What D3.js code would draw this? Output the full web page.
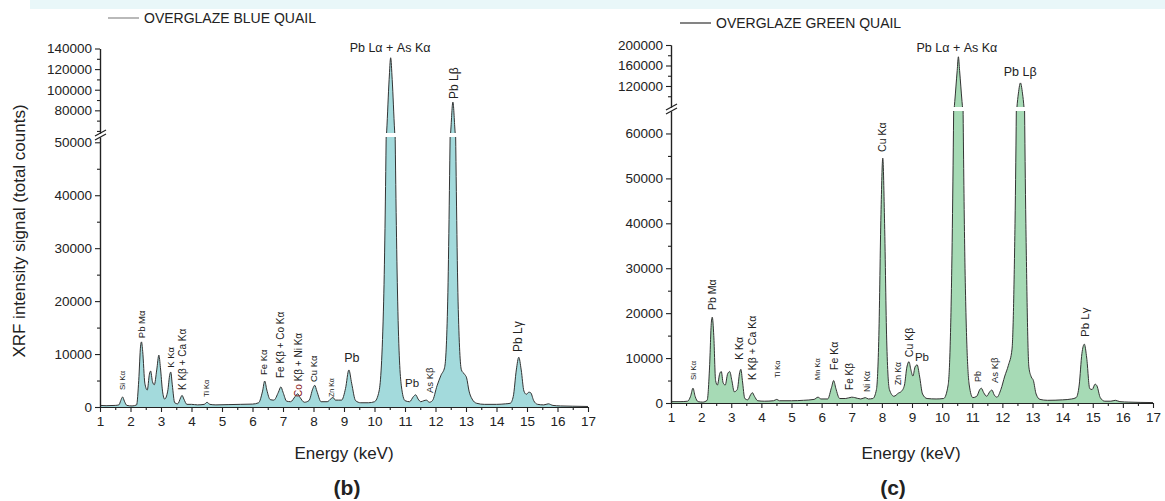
<!DOCTYPE html>
<html>
<head>
<meta charset="utf-8">
<script src="https://cdn.jsdelivr.net/npm/d3@7"></script>
<style>
  body { margin: 0; background: #fff; }
  svg text { font-family: "Liberation Sans", Arial, sans-serif; fill: #222; }
</style>
</head>
<body>
<svg id="chart" width="1165" height="501"></svg>
<script>
// ---------- spectrum data (energy in keV, counts) ----------
const blueEnergy = [1.00,1.20,1.50,1.62,1.68,1.74,1.80,1.88,2.05,2.20,2.27,2.33,2.36,2.40,2.47,2.55,2.62,2.66,2.72,2.78,2.86,2.93,2.98,3.05,3.12,3.22,3.29,3.32,3.37,3.45,3.55,3.64,3.69,3.75,3.85,4.00,4.20,4.42,4.51,4.60,4.80,5.20,5.60,6.00,6.20,6.33,6.40,6.47,6.58,6.70,6.85,6.93,7.00,7.12,7.25,7.40,7.48,7.56,7.70,7.85,7.98,8.04,8.11,8.25,8.45,8.58,8.64,8.72,8.82,8.92,9.05,9.16,9.25,9.38,9.55,9.80,10.00,10.15,10.30,10.40,10.48,10.53,10.58,10.66,10.76,10.88,11.00,11.15,11.28,11.35,11.43,11.52,11.62,11.70,11.80,11.90,12.05,12.18,12.30,12.40,12.50,12.57,12.64,12.74,12.85,12.95,13.02,13.10,13.20,13.35,13.60,14.00,14.30,14.45,14.55,14.65,14.73,14.81,14.90,14.98,15.06,15.12,15.22,15.35,15.55,15.70,15.85,16.10,16.50,17.00];
const blueCounts = [300,250,300,400,1200,1900,1100,300,200,400,5000,11500,12300,10500,4500,3200,6200,6800,4800,4200,7000,9800,7500,3000,1500,3000,6200,6600,4200,800,600,1700,2200,1500,500,500,400,500,900,500,400,450,500,550,800,3000,4900,3200,1400,1300,2800,3800,2800,1100,1000,2000,2500,1800,900,1200,3500,4100,3000,1000,1000,1600,1800,1300,1300,1300,3500,7000,4500,1200,800,800,1000,3000,20000,60000,110000,131000,110000,60000,20000,4000,1200,1000,2000,2300,1500,1000,1200,1300,900,1200,4000,6000,7500,20000,60000,88000,60000,20000,7000,6200,5500,3000,1500,700,500,500,600,700,2000,7000,9400,7000,3000,2400,2800,2700,1200,500,400,600,300,200,150,100];

const greenEnergy = [1.00,1.30,1.55,1.65,1.73,1.80,1.90,2.05,2.20,2.28,2.34,2.37,2.42,2.48,2.54,2.62,2.67,2.73,2.80,2.88,2.95,3.02,3.10,3.20,3.28,3.32,3.37,3.45,3.55,3.64,3.70,3.77,3.88,4.10,4.40,4.51,4.60,5.00,5.40,5.75,5.88,5.98,6.20,6.33,6.40,6.47,6.60,6.80,7.00,7.10,7.30,7.45,7.55,7.70,7.82,7.90,7.97,8.03,8.09,8.16,8.25,8.40,8.55,8.65,8.75,8.83,8.90,8.96,9.03,9.10,9.17,9.25,9.35,9.50,9.80,10.05,10.20,10.32,10.42,10.50,10.54,10.58,10.66,10.76,10.90,11.02,11.15,11.25,11.30,11.38,11.48,11.58,11.65,11.73,11.82,11.95,12.08,12.20,12.32,12.42,12.52,12.60,12.68,12.78,12.88,12.96,13.03,13.12,13.25,13.50,14.00,14.30,14.45,14.55,14.64,14.72,14.80,14.90,14.98,15.08,15.14,15.25,15.40,15.60,15.75,15.90,16.20,17.00];
const greenCounts = [300,300,400,1500,3300,1500,300,200,600,8000,18000,19100,15000,5000,4000,6600,7000,4500,4000,6500,7000,5000,2500,3000,6800,7500,5000,1000,700,1800,2300,1500,500,400,500,800,500,500,600,800,1300,900,900,3500,5000,3300,1000,1000,1300,1200,900,1200,900,1000,3000,15000,42000,54500,40000,14000,3000,1500,2200,2600,4000,8000,9200,7500,6000,8000,8500,6000,2000,1000,900,1000,4000,30000,90000,150000,177000,150000,90000,30000,4000,1200,1500,3000,3300,2300,1500,2500,2900,1800,1300,3000,6000,8400,12000,40000,100000,126000,100000,40000,8000,5800,5000,2000,800,600,700,900,1200,4000,11000,13100,10000,3200,3000,4200,3800,1200,400,400,600,300,200,100];

// ---------- axis tick values ----------
const energyTicks = [1,2,3,4,5,6,7,8,9,10,11,12,13,14,15,16,17];
const energyMinorTicks = [1.5,2.5,3.5,4.5,5.5,6.5,7.5,8.5,9.5,10.5,11.5,12.5,13.5,14.5,15.5,16.5];
const blueTicksLow = [0,10000,20000,30000,40000,50000];
const blueMinorLow = [5000,15000,25000,35000,45000];
const blueTicksHigh = [80000,100000,120000,140000];
const blueMinorHigh = [60000,70000,90000,110000,130000];
const greenTicksLow = [0,10000,20000,30000,40000,50000,60000];
const greenMinorLow = [5000,15000,25000,35000,45000,55000];
const greenTicksHigh = [120000,160000,200000];
const greenMinorHigh = [100000,140000,180000];

// ---------- peak annotations: text, energy (keV), counts at label foot ----------
const blueLabelText = ["Si Kα","Pb Mα","K Kα","K Kβ + Ca Kα","Ti Kα","Fe Kα","Fe Kβ + Co Kα","Co Kβ + Ni Kα","Cu Kα","Zn Kα","Pb","Pb Lα + As Kα","Pb","As Kβ","Pb Lβ","Pb Lγ"];
const blueLabelEnergy = [1.72,2.37,3.33,3.69,4.50,6.35,6.93,7.52,8.02,8.60,9.26,10.51,11.23,11.82,12.60,14.70];
const blueLabelCounts = [3200,13000,7400,3200,1900,6050,5480,1900,4720,1900,8500,136600,3780,2640,91000,10400];

const greenLabelText = ["Si Kα","Pb Mα","K Kα","K Kβ + Ca Kα","Ti Kα","Mn Kα","Fe Kα","Fe Kβ","Ni Kα","Cu Kα","Zn Kα","Cu Kβ","Pb","Pb Lα + As Kα","Pb","As Kβ","Pb Lβ","Pb Lγ"];
const greenLabelEnergy = [1.74,2.37,3.28,3.69,4.52,5.85,6.41,6.94,7.50,8.00,8.54,8.90,9.33,10.49,11.19,11.76,12.59,14.74];
const greenLabelCounts = [5100,20700,9600,5100,5600,5100,7350,2900,2450,55900,4000,10200,9350,186400,4700,4450,139500,14700];

// ---------- layout ----------
const svg = d3.select("#chart");

svg.append("rect").attr("x", 30).attr("y", 0).attr("width", 1135).attr("height", 9)
  .attr("fill", "#e9f7f9");

const panels = [
  {
    id: "blue",
    energy: blueEnergy, counts: blueCounts,
    xRange: [100, 588],
    loDomain: [0, 51000], loRange: [407, 137],
    hiDomain: [58000, 140000], hiRange: [133, 48.5],
    ticksLo: blueTicksLow, minorLo: blueMinorLow,
    ticksHi: blueTicksHigh, minorHi: blueMinorHigh,
    fill: "#a3dadc", stroke: "#333",
    labelText: blueLabelText, labelEnergy: blueLabelEnergy, labelCounts: blueLabelCounts,
    labelRotate: [1,1,1,1,1,1,1,1,1,1,0,0,0,1,1,1],
    labelSize: [8,9.5,9.5,10,7.5,9.5,10,10,9.5,7,12.5,12.5,11.5,9.5,12,12],
    legend: "OVERGLAZE BLUE QUAIL", legendX: 108, legendY: 18, legendStroke: "#8a8a8a",
    titleX: 344, panelTag: "(b)", tagX: 347,
    yTitle: true
  },
  {
    id: "green",
    energy: greenEnergy, counts: greenCounts,
    xRange: [671, 1153],
    loDomain: [0, 65000], loRange: [403, 111],
    hiDomain: [79000, 200000], hiRange: [107, 45],
    ticksLo: greenTicksLow, minorLo: greenMinorLow,
    ticksHi: greenTicksHigh, minorHi: greenMinorHigh,
    fill: "#a6dab5", stroke: "#333",
    labelText: greenLabelText, labelEnergy: greenLabelEnergy, labelCounts: greenLabelCounts,
    labelRotate: [1,1,1,1,1,1,1,1,1,1,1,1,0,0,1,1,0,1],
    labelSize: [8,10.5,10.5,10.5,7.5,7.5,10.5,10,8.5,10.5,8.5,10.5,11.5,12.5,9,9.5,12.5,11.5],
    legend: "OVERGLAZE GREEN QUAIL", legendX: 680, legendY: 23, legendStroke: "#333",
    titleX: 911, panelTag: "(c)", tagX: 893,
    yTitle: false
  }
];

panels.forEach(drawPanel);

// y axis title (left panel only)
svg.append("text")
  .attr("transform", "translate(25,231) rotate(-90)")
  .attr("text-anchor", "middle")
  .style("font-size", "17px")
  .text("XRF intensity signal (total counts)");

function drawPanel(p) {
  const g = svg.append("g");
  const x = d3.scaleLinear().domain([1, 17]).range(p.xRange);
  const yLo = d3.scaleLinear().domain(p.loDomain).range(p.loRange);
  const yHi = d3.scaleLinear().domain(p.hiDomain).range(p.hiRange);
  const pts = p.energy.map((e, i) => [e, p.counts[i]]);

  const defs = g.append("defs");
  defs.append("clipPath").attr("id", "clipLo-" + p.id).append("rect")
    .attr("x", p.xRange[0]).attr("y", p.loRange[1])
    .attr("width", p.xRange[1] - p.xRange[0]).attr("height", p.loRange[0] - p.loRange[1] + 0.5);
  defs.append("clipPath").attr("id", "clipHi-" + p.id).append("rect")
    .attr("x", p.xRange[0]).attr("y", p.hiRange[1] - 6)
    .attr("width", p.xRange[1] - p.xRange[0]).attr("height", p.hiRange[0] - p.hiRange[1] + 6);

  // two segments of the broken axis: lower and upper
  [[yLo, "clipLo-", p.loRange[0]], [yHi, "clipHi-", p.hiRange[0]]].forEach(([y, clip, base]) => {
    const seg = g.append("g").attr("clip-path", "url(#" + clip + p.id + ")");
    seg.append("path").datum(pts)
      .attr("fill", p.fill)
      .attr("d", d3.area().x(d => x(d[0])).y0(base).y1(d => y(d[1])).curve(d3.curveMonotoneX));
    seg.append("path").datum(pts)
      .attr("fill", "none").attr("stroke", p.stroke).attr("stroke-width", 1)
      .attr("stroke-linejoin", "round")
      .attr("d", d3.line().x(d => x(d[0])).y(d => y(d[1])).curve(d3.curveMonotoneX));
  });

  // x axis
  const xAxisG = g.append("g").attr("transform", `translate(0,${yLo(0)})`);
  xAxisG.call(d3.axisBottom(x).tickValues(energyTicks).tickFormat(d3.format("d"))
    .tickSize(5).tickSizeOuter(0).tickPadding(4));
  xAxisG.append("g").call(d3.axisBottom(x).tickValues(energyMinorTicks).tickFormat("")
    .tickSize(3).tickSizeOuter(0));

  // y axes (lower and upper)
  const yAxes = [
    [yLo, p.ticksLo, p.minorLo],
    [yHi, p.ticksHi, p.minorHi]
  ];
  yAxes.forEach(([y, major, minor]) => {
    const ag = g.append("g").attr("transform", `translate(${p.xRange[0]},0)`);
    ag.call(d3.axisLeft(y).tickValues(major).tickFormat(d3.format("d"))
      .tickSize(5).tickSizeOuter(0).tickPadding(3));
    ag.append("g").call(d3.axisLeft(y).tickValues(minor).tickFormat("")
      .tickSize(3).tickSizeOuter(0));
  });

  g.selectAll(".domain").attr("stroke", "#222").attr("stroke-width", 1.2);
  g.selectAll(".tick line").attr("stroke", "#222").attr("stroke-width", 1.1);
  g.selectAll(".tick text").style("font-size", "13.5px").attr("fill", "#222")
    .style("font-family", "'Liberation Sans', Arial, sans-serif");

  // axis break marks
  const bx = p.xRange[0];
  [p.hiRange[0], p.loRange[1]].forEach(by => {
    g.append("line")
      .attr("x1", bx - 5).attr("y1", by + 3).attr("x2", bx + 6).attr("y2", by - 3)
      .attr("stroke", "#222").attr("stroke-width", 1.2);
  });

  // peak annotations
  p.labelText.forEach((t, i) => {
    const c = p.labelCounts[i];
    const yScale = c > p.loDomain[1] ? yHi : yLo;
    const px = x(p.labelEnergy[i]);
    const py = yScale(c);
    const txt = g.append("text").style("font-size", p.labelSize[i] + "px");
    if (p.labelRotate[i]) {
      txt.attr("transform", `translate(${px},${py}) rotate(-90)`)
        .attr("dy", "0.35em").attr("text-anchor", "start");
    } else {
      txt.attr("x", px).attr("y", py).attr("text-anchor", "middle");
    }
    if (t.startsWith("Co ")) {
      txt.append("tspan").attr("fill", "#8b1c1c").text("Co");
      txt.append("tspan").text(t.slice(2));
    } else {
      txt.text(t);
    }
  });

  // legend
  g.append("line")
    .attr("x1", p.legendX).attr("x2", p.legendX + 31)
    .attr("y1", p.legendY).attr("y2", p.legendY)
    .attr("stroke", p.legendStroke).attr("stroke-width", 1.2);
  g.append("text").attr("x", p.legendX + 36).attr("y", p.legendY + 5)
    .style("font-size", "14px").text(p.legend);

  // x axis title and panel tag
  g.append("text").attr("x", p.titleX).attr("y", 459)
    .attr("text-anchor", "middle").style("font-size", "17px").text("Energy (keV)");
  g.append("text").attr("x", p.tagX).attr("y", 495)
    .attr("text-anchor", "middle").style("font-size", "21px").style("font-weight", "bold")
    .text(p.panelTag);
}
</script>
</body>
</html>
